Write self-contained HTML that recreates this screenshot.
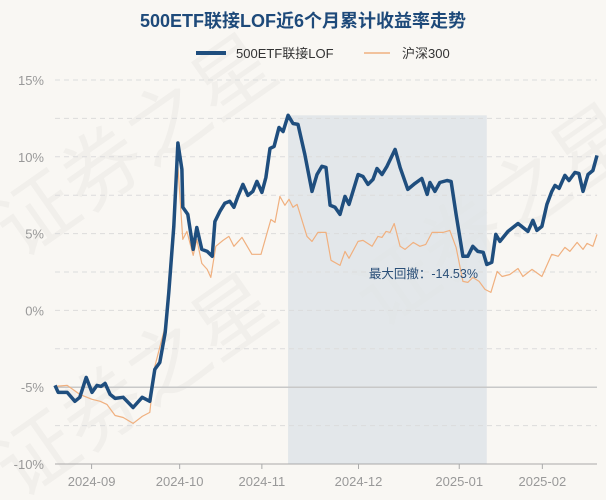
<!DOCTYPE html>
<html><head><meta charset="utf-8">
<style>
html,body{margin:0;padding:0;background:#f9f7f3;}
svg{display:block;font-family:"Liberation Sans","Noto Sans CJK SC",sans-serif;}
</style></head>
<body>
<svg id="chart" width="606" height="500" viewBox="0 0 606 500" xmlns="http://www.w3.org/2000/svg">
<rect width="606" height="500" fill="#f9f7f3"/>
<g fill="#000" opacity="0.035" font-size="80">
<text x="20" y="260" transform="rotate(-35 20 260)">证券之星</text>
<text x="20" y="500" transform="rotate(-35 20 500)">证券之星</text>
<text x="380" y="330" transform="rotate(-35 380 330)">证券之星</text>
</g>
<text x="303" y="27" text-anchor="middle" font-size="18" font-weight="bold" fill="#1e4a7a">500ETF联接LOF近6个月累计收益率走势</text>
<g>
<g>
<line x1="196" y1="53" x2="226" y2="53" stroke="#1f4e7e" stroke-width="4"/>
<text x="236" y="58" font-size="13" fill="#333">500ETF联接LOF</text>
</g>
<g>
<line x1="364" y1="53" x2="390" y2="53" stroke="#f0b07f" stroke-width="1.5"/>
<text x="402" y="58" font-size="13" fill="#333">沪深300</text>
</g>
</g>
<g id="plot"></g>
</svg>
<script>
const yTicks = [15, 10, 5, 0, -5, -10];
const yTickLabels = ["15%", "10%", "5%", "0%", "-5%", "-10%"];
const xTickDays = [8.1, 27.6, 45.8, 67.2, 89.5, 107.9];
const xTickLabels = ["2024-09", "2024-10", "2024-11", "2024-12", "2025-01", "2025-02"];
const drawdownStart = 51.6;
const drawdownEnd = 95.6;
const drawdownLabel = "最大回撤：-14.53%";
const fundDay = [0,0.7,2.7,4.4,5.5,6.9,8.2,9.3,10.2,11.1,12.2,13.3,15.1,17.3,19.3,21.0,22.1,23.2,24.4,25.2,26.3,27.2,28.1,28.3,29.4,30.6,31.4,32.5,33.7,34.8,35.4,36.5,37.6,38.7,39.6,40.5,41.6,42.7,43.8,44.7,45.8,46.7,47.6,48.5,49.6,50.5,51.6,52.7,53.8,55.3,56.9,58.0,59.1,60.0,60.9,62.0,63.1,64.2,65.1,67.1,68.2,69.3,70.4,71.3,72.4,73.5,75.3,76.4,78.1,79.7,81.2,82.4,83.0,84.1,85.2,86.8,87.7,88.8,90.3,91.4,92.5,93.6,94.8,95.6,96.7,97.6,98.5,100.3,102.5,104.7,105.8,106.7,107.8,108.9,110.0,110.7,111.6,112.9,113.8,115.1,116.0,116.9,118.0,119.1,120];
const fundRet = [-4.88,-5.34,-5.34,-5.92,-5.66,-4.36,-5.34,-4.88,-4.95,-4.75,-5.47,-5.73,-5.66,-6.32,-5.66,-5.92,-3.84,-3.39,-1.43,1.17,5.47,10.9,9.18,6.71,6.25,3.97,5.40,3.97,3.84,3.52,5.79,6.45,6.97,7.10,6.71,7.42,8.20,7.49,7.75,8.40,7.68,8.66,10.55,10.68,11.91,11.65,12.70,12.17,12.11,10.16,7.75,8.85,9.38,9.31,6.84,6.71,6.25,7.42,6.90,8.85,8.72,8.20,8.53,9.24,8.85,9.38,10.48,9.31,7.88,8.27,8.59,7.55,8.33,7.75,8.33,8.46,8.40,6.25,3.52,3.52,4.17,3.84,3.78,2.99,3.13,4.95,4.49,5.14,5.66,5.14,5.86,5.21,5.47,6.90,7.75,8.14,7.94,8.79,8.46,8.98,8.92,7.75,8.85,9.11,10.09];
const hsDay = [0,2.7,5.5,8.2,10.0,11.5,13.3,15.1,17.3,19.3,21.0,22.1,24.4,26.1,27.2,28.3,29.2,30.6,31.4,32.5,33.7,34.5,35.6,37.2,38.5,39.6,41.4,43.6,45.6,47.8,48.7,49.8,50.9,51.8,52.7,53.6,55.8,56.9,58.2,60.0,61.1,63.1,64.2,65.1,67.1,68.2,70.2,71.5,72.4,73.3,74.2,75.1,76.4,77.5,79.3,80.8,82.1,83.5,85.9,87.4,88.8,90.3,91.4,92.5,93.9,95.2,96.5,97.9,99.0,100.7,102.5,103.6,105.6,107.8,110.0,111.4,112.9,114.0,115.6,116.9,117.8,119.1,120];
const hsRet = [-4.95,-4.88,-5.47,-5.79,-5.92,-6.12,-6.84,-6.97,-7.36,-6.90,-6.64,-3.65,-1.04,5.47,9.38,4.62,5.14,3.58,4.62,3.06,2.67,2.15,4.17,4.56,4.82,4.17,4.75,3.65,3.65,5.92,5.73,7.42,6.84,7.23,6.71,6.90,4.82,4.49,5.08,5.08,3.26,2.93,3.84,3.39,4.49,4.56,4.17,4.82,4.75,5.14,5.08,5.66,4.17,3.97,4.43,4.17,4.30,5.08,5.08,5.21,4.10,1.89,1.82,2.15,1.89,1.37,1.17,2.54,2.21,2.34,2.73,2.21,2.67,2.21,3.65,3.52,4.10,3.84,4.43,3.97,4.36,4.17,4.95];

const NS = "http://www.w3.org/2000/svg";
const X0 = 55, X1 = 597, DMAX = 120;
const Y_TOP = 80, Y_BOT = 464, VMAX = 15, VMIN = -10;
function xScale(d){ return X0 + (d / DMAX) * (X1 - X0); }
function yScale(v){ return Y_TOP + (VMAX - v) / (VMAX - VMIN) * (Y_BOT - Y_TOP); }
const plot = document.getElementById('plot');
function mk(tag, attrs){ const e = document.createElementNS(NS, tag); for (const k in attrs) e.setAttribute(k, attrs[k]); plot.appendChild(e); return e; }

// drawdown shading: from peak value down to axis
let peak = -Infinity;
fundDay.forEach((d, i) => { if (d >= drawdownStart - 0.01 && d <= drawdownEnd + 0.01) peak = Math.max(peak, fundRet[i]); });
const shade = mk('rect', {x: xScale(drawdownStart), y: yScale(peak), width: xScale(drawdownEnd) - xScale(drawdownStart), height: Y_BOT - yScale(peak), fill: '#dfe4e8', opacity: 0.85});



for (let v = VMAX; v >= VMIN; v -= 2.5) {
  const y = yScale(v);
  let g;
  if (v === -5) {
    g = mk('line', {x1: X0, x2: X1, y1: y, y2: y, stroke: '#c8c8c8', 'stroke-width': 1.5});
  } else if (v === VMIN) {
    g = mk('line', {x1: X0, x2: X1, y1: y, y2: y, stroke: '#aaa', 'stroke-width': 1});
  } else {
    g = mk('line', {x1: X0, x2: X1, y1: y, y2: y, stroke: '#dcdcdc', 'stroke-width': 1, 'stroke-dasharray': '5,4'});
  }
  
  
}
yTicks.forEach((v, i) => {
  const t = mk('text', {x: 44, y: yScale(v) + 5, 'text-anchor': 'end', 'font-size': 13, fill: '#999'});
  t.textContent = yTickLabels[i];
  
  
});
xTickDays.forEach((d, i) => {
  const x = xScale(d);
  const tk = mk('line', {x1: x, x2: x, y1: Y_BOT, y2: Y_BOT + 5, stroke: '#aaa'});
  
  
  const t = mk('text', {x: x, y: 486, 'text-anchor': 'middle', 'font-size': 13, fill: '#999'});
  t.textContent = xTickLabels[i];
  
  
});
function path(days, vals){ return days.map((d, i) => (i ? 'L' : 'M') + xScale(d).toFixed(1) + ',' + yScale(vals[i]).toFixed(1)).join(' '); }
const hs = mk('path', {d: path(hsDay, hsRet), fill: 'none', stroke: '#f0b07f', 'stroke-width': 1.2, 'stroke-linejoin': 'round'});


const fund = mk('path', {d: path(fundDay, fundRet), fill: 'none', stroke: '#1f4e7e', 'stroke-width': 3.5, 'stroke-linejoin': 'round'});


const dl = mk('text', {x: (xScale(drawdownStart) + xScale(drawdownEnd)) / 2 + 36, y: 278, 'text-anchor': 'middle', 'font-size': 12.5, fill: '#2a4f78'});
dl.textContent = drawdownLabel;


</script>
</body></html>
